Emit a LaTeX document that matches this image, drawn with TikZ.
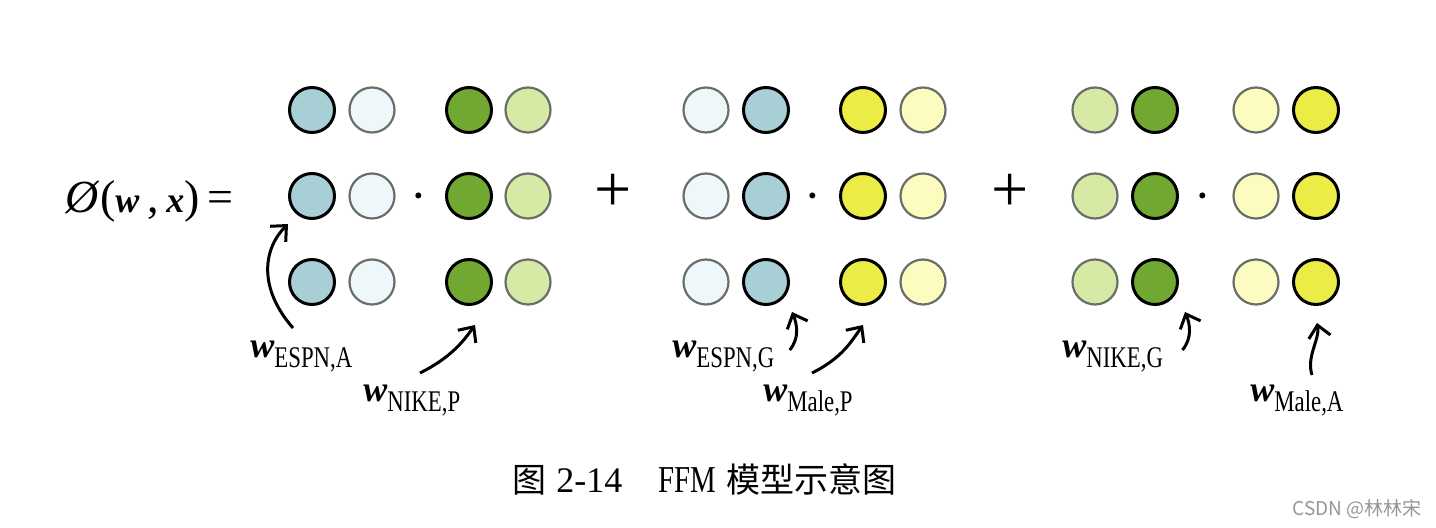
\documentclass[tikz,border=0pt]{standalone}
\usepackage{fontspec}
\setmainfont{Liberation Serif}
\newfontfamily\condfont[FakeStretch=0.76]{Liberation Serif}
\newfontfamily\cjk{Noto Sans CJK SC}
\usetikzlibrary{positioning, arrows.meta}

\definecolor{blueD}{RGB}{168,206,214}
\definecolor{blueL}{RGB}{238,248,250}
\definecolor{greenD}{RGB}{112,168,50}
\definecolor{greenL}{RGB}{214,234,166}
\definecolor{yellowD}{RGB}{236,236,70}
\definecolor{yellowL}{RGB}{252,252,192}
\definecolor{rimgray}{RGB}{105,110,105}
\definecolor{wmgray}{RGB}{150,150,150}

\newcommand{\wlab}[1]{{\fontsize{18}{18}\selectfont\bfseries\itshape w}\raisebox{-5pt}{\condfont\fontsize{15}{15}\selectfont #1}}

\begin{document}
\begin{tikzpicture}[
    x=0.5pt, y=-0.5pt,
    dark/.style={circle, draw=black, line width=1.5pt, minimum size=22.5pt, inner sep=0pt},
    pale/.style={circle, draw=rimgray, line width=1.1pt, minimum size=22.5pt, inner sep=0pt},
    dkblue/.style={dark, fill=blueD},
    ltblue/.style={pale, fill=blueL},
    dkgreen/.style={dark, fill=greenD},
    ltgreen/.style={pale, fill=greenL},
    dkyellow/.style={dark, fill=yellowD},
    ltyellow/.style={pale, fill=yellowL},
    wlabel/.style={anchor=base west, inner sep=0pt},
    plus/.style={anchor=base, inner sep=0pt, font=\fontsize{33}{33}\selectfont},
    mdot/.style={anchor=base, inner sep=0pt, font=\fontsize{25}{25}\selectfont},
    curvearrow/.style={-{Straight Barb[length=6pt, width=11pt]}, line width=1.5pt}
]
    \useasboundingbox (0,0) rectangle (1436,528);

    % formula
    \node[anchor=base west, inner sep=0pt] (phi) at (65,213)
        {\fontsize{23}{23}\selectfont\textit{Ø}(\textbf{\textit{\fontsize{18}{18}\selectfont w}}\,,\,\textbf{\textit{\fontsize{18}{18}\selectfont x}})\,=};

    % weight vectors
    \foreach \g/\k/\cx/\cs in {1/1/312/dkblue, 1/2/372/ltblue, 1/3/469/dkgreen, 1/4/528/ltgreen,
                               2/1/706/ltblue, 2/2/766/dkblue, 2/3/863/dkyellow, 2/4/923/ltyellow,
                               3/1/1095/ltgreen, 3/2/1155/dkgreen, 3/3/1256/ltyellow, 3/4/1316/dkyellow}
        \foreach \r/\cy in {1/110, 2/196, 3/282}
            \node[\cs] (c-\g-\r-\k) at (\cx,\cy) {};

    \node[mdot] (dot1) at (419,213) {·};
    \node[mdot] (dot2) at (813,213) {·};
    \node[mdot] (dot3) at (1203,213) {·};
    \node[plus] (plus1) at (613,212) {+};
    \node[plus] (plus2) at (1010,212) {+};

    % labels
    \node[wlabel] (eA) at (250,358) {\wlab{ESPN,A}};
    \node[wlabel] (nP) at (363,402) {\wlab{NIKE,P}};
    \node[wlabel] (eG) at (672,358) {\wlab{ESPN,G}};
    \node[wlabel] (mP) at (763,402) {\wlab{Male,P}};
    \node[wlabel] (nG) at (1062,358) {\wlab{NIKE,G}};
    \node[wlabel] (mA) at (1250,402) {\wlab{Male,A}};

    \draw[curvearrow] ([shift={(43,-30)}]eA.base west) .. controls +(-35,-40) and +(-25,25) .. ([shift={(-24,28)}]c-1-2-1.center);
    \draw[curvearrow] ([shift={(57,-29)}]nP.base west) .. controls +(30,-15) and +(-12,17) .. ([shift={(6,43)}]c-1-3-3.center);
    \draw[curvearrow] ([shift={(15,-8)}]eG.base east) .. controls +(10,-12) and +(5,12) .. ([shift={(26,30)}]c-2-3-2.center);
    \draw[curvearrow] ([shift={(49,-29)}]mP.base west) .. controls +(30,-15) and +(-12,17) .. ([shift={(0,43)}]c-2-3-3.center);
    \draw[curvearrow] ([shift={(19,-8)}]nG.base east) .. controls +(10,-12) and +(5,12) .. ([shift={(30,30)}]c-3-3-2.center);
    \draw[curvearrow] ([shift={(62,-27)}]mA.base west) .. controls +(-6,-18) and +(3,16) .. ([shift={(1,41)}]c-3-3-4.center);

    % caption
    \node[anchor=base west, inner sep=0pt] (cap) at (512,493)
        {\fontsize{18}{18}\selectfont{\cjk\fontsize{17}{17}\selectfont 图}\hspace{5pt}2-14\hspace{18pt}{\condfont\fontsize{19}{19}\selectfont FFM}\hspace{5pt}{\cjk\fontsize{17}{17}\selectfont 模型示意图}};
    \node[anchor=base west, inner sep=0pt, text=wmgray, font=\cjk\fontsize{9.5}{9.5}\selectfont] (mark) at (1292,516) {CSDN @林林宋};
\end{tikzpicture}
\end{document}
